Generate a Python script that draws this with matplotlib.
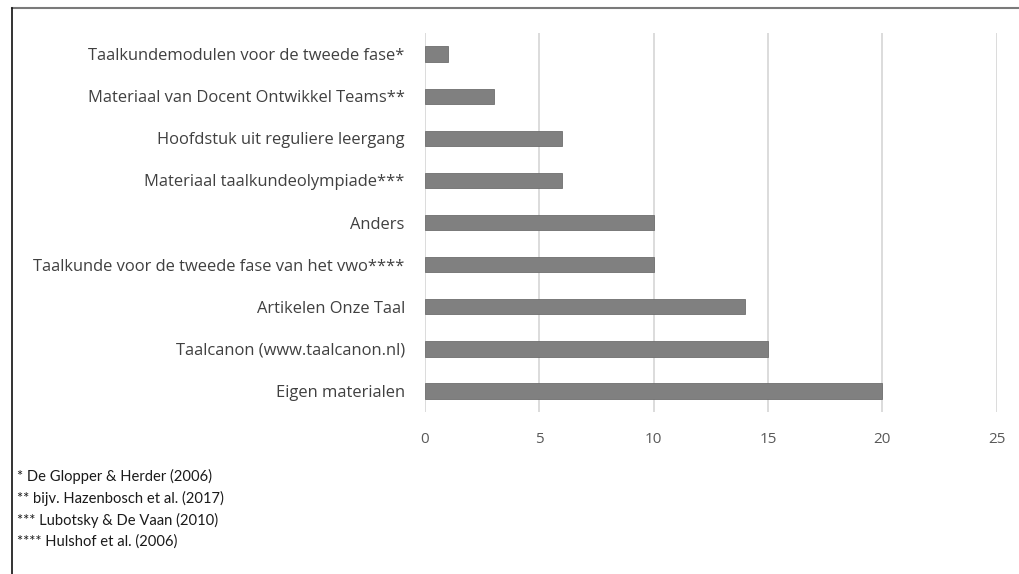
import matplotlib
matplotlib.use("Agg")
import matplotlib.pyplot as plt
from matplotlib.lines import Line2D

categories = [
    "Eigen materialen",
    "Taalcanon (www.taalcanon.nl)",
    "Artikelen Onze Taal",
    "Taalkunde voor de tweede fase van het vwo****",
    "Anders",
    "Materiaal taalkundeolympiade***",
    "Hoofdstuk uit reguliere leergang",
    "Materiaal van Docent Ontwikkel Teams**",
    "Taalkundemodulen voor de tweede fase*",
]
counts = [20, 15, 14, 10, 10, 6, 6, 3, 1]
x_ticks = [0, 5, 10, 15, 20, 25]
footnotes = [
    "* De Glopper & Herder (2006)",
    "** bijv. Hazenbosch et al. (2017)",
    "*** Lubotsky & De Vaan (2010)",
    "**** Hulshof et al. (2006)",
]

plt.rcParams["font.family"] = ["Open Sans", "DejaVu Sans"]

fig = plt.figure(figsize=(10.19, 5.74), dpi=100)
ax = fig.add_axes([0.417, 0.282, 0.561, 0.6605])

ypos = list(range(len(categories)))
ax.barh(ypos, counts, height=0.36, color="#808080", edgecolor="#6e6e6e",
        linewidth=0.6, zorder=3)

ax.set_xlim(0, 25)
ax.set_ylim(-0.5, len(categories) - 0.5)
ax.set_xticks(x_ticks)
ax.set_yticks(ypos)
ax.set_yticklabels(categories)
ax.xaxis.grid(True, color="#d9d9d9", linewidth=1.3, zorder=0)
ax.tick_params(axis="both", length=0, colors="#404040")
ax.tick_params(axis="x", pad=14, labelsize=11, labelcolor="#595959")
ax.tick_params(axis="y", pad=14.5, labelsize=11.9)
for s in ax.spines.values():
    s.set_visible(False)

# border lines framing the figure
fig.add_artist(Line2D([12 / 1019, 1.0], [1 - 8 / 574, 1 - 8 / 574],
                      transform=fig.transFigure, color="#7a7a7a", linewidth=1.5))
fig.add_artist(Line2D([12 / 1019, 12 / 1019], [1 - 8 / 574, 0.0],
                      transform=fig.transFigure, color="#111111", linewidth=1.2))

for i, note in enumerate(footnotes):
    fig.text(17 / 1019, 1 - (476 + 22 * i) / 574, note, fontsize=10.6,
             color="#1a1a1a", va="center", ha="left",
             family=["Lato", "DejaVu Sans"])

fig.savefig("out.png", dpi=100, facecolor="white")
